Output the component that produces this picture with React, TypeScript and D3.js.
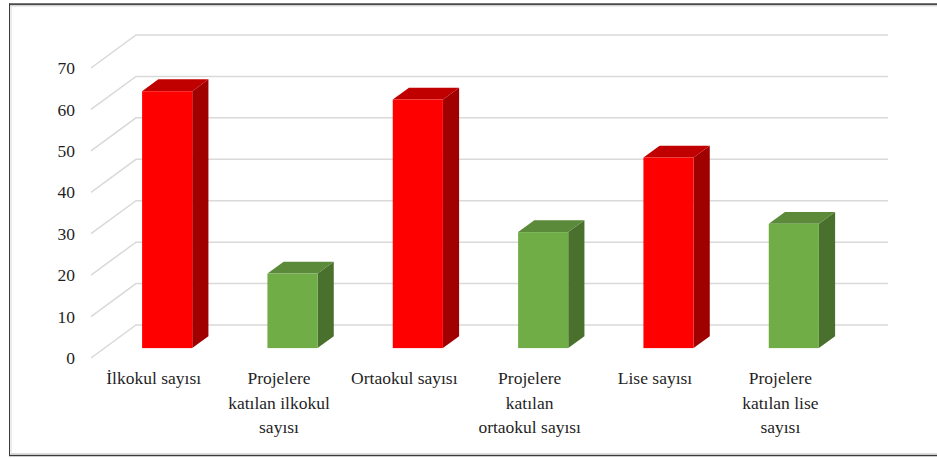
import * as d3 from "d3";

// values
const categories = [
  ["İlkokul sayısı"],
  ["Projelere", "katılan ilkokul", "sayısı"],
  ["Ortaokul sayısı"],
  ["Projelere", "katılan", "ortaokul sayısı"],
  ["Lise sayısı"],
  ["Projelere", "katılan lise", "sayısı"],
];
const values = [62, 18, 60, 28, 46, 30];
const kinds = ["total", "joined", "total", "joined", "total", "joined"];
const yTicks = [0, 10, 20, 30, 40, 50, 60, 70];

const palette: Record<string, { front: string; top: string; side: string }> = {
  total: { front: "#FF0000", top: "#C00000", side: "#A00000" },
  joined: { front: "#70AD47", top: "#5A8A3A", side: "#4A702E" },
};

const W = 937;
const H = 458;
const DX = 45; // depth offset of the back wall
const DY = 33;
const font = "Liberation Serif, serif";

export default function App() {
  const x = d3
    .scaleBand<number>()
    .domain(values.map((_, i) => i))
    .range([91, 843]);
  const y = d3.scaleLinear().domain([0, 70]).range([358, 68]);

  const bw = x.bandwidth();
  const barW = bw * 0.4;
  const tFront = 0.3;
  const tBack = 0.66;
  const dxBar = DX * (tBack - tFront);
  const dyBar = DY * (tBack - tFront);

  const [fx0, fx1] = x.range();

  return (
    <svg
      width={W}
      height={H}
      style={{ position: "absolute", left: 0, top: 0, background: "#fff", fontFamily: font }}
    >
      <rect x={0} y={0} width={W} height={H} fill="#fff" />
      {/* frame */}
      <line x1={9} y1={4.3} x2={W} y2={4.3} stroke="#4a4a4a" strokeWidth={2} />
      <line x1={11} y1={6} x2={W} y2={6} stroke="#d8d8d8" strokeWidth={1} />
      <line x1={9.5} y1={3.3} x2={9.5} y2={456} stroke="#3a3a3a" strokeWidth={1} />
      <line x1={11} y1={6} x2={11} y2={454} stroke="#d8d8d8" strokeWidth={1} />
      <line x1={9} y1={455.5} x2={W} y2={455.5} stroke="#3a3a3a" strokeWidth={1.3} />
      <line x1={11} y1={453.5} x2={W} y2={453.5} stroke="#dcdcdc" strokeWidth={1} />

      {/* grid */}
      {yTicks.map((t) => {
        const yy = y(t);
        return (
          <polyline
            key={t}
            points={`${fx0},${yy} ${fx0 + DX},${yy - DY} ${fx1 + DX},${yy - DY}`}
            fill="none"
            stroke="#d9d9d9"
            strokeWidth={1.5}
          />
        );
      })}

      {/* y tick labels */}
      {yTicks.map((t) => (
        <text
          key={t}
          x={75}
          y={y(t)}
          dy="0.35em"
          textAnchor="end"
          fontSize={17.5}
          fill="#1f1f1f"
        >
          {t}
        </text>
      ))}

      {/* bars */}
      {values.map((v, i) => {
        const c = palette[kinds[i]];
        const xl = (x(i) as number) + (bw - barW) / 2 + DX * tFront;
        const xr = xl + barW;
        const yTop = y(v) - DY * tFront;
        const yBase = y(0) - DY * tFront;
        return (
          <g key={i}>
            <polygon
              points={`${xr},${yTop} ${xr + dxBar},${yTop - dyBar} ${xr + dxBar},${yBase - dyBar} ${xr},${yBase}`}
              fill={c.side}
            />
            <polygon
              points={`${xl},${yTop} ${xl + dxBar},${yTop - dyBar} ${xr + dxBar},${yTop - dyBar} ${xr},${yTop}`}
              fill={c.top}
            />
            <rect x={xl} y={yTop} width={barW} height={yBase - yTop} fill={c.front} />
          </g>
        );
      })}

      {/* category labels */}
      {categories.map((lines, i) => (
        <text
          key={i}
          x={(x(i) as number) + bw / 2}
          y={384}
          textAnchor="middle"
          fontSize={17.5}
          fill="#1f1f1f"
        >
          {lines.map((l, j) => (
            <tspan key={j} x={(x(i) as number) + bw / 2} dy={j === 0 ? 0 : 24.5}>
              {l}
            </tspan>
          ))}
        </text>
      ))}
    </svg>
  );
}
